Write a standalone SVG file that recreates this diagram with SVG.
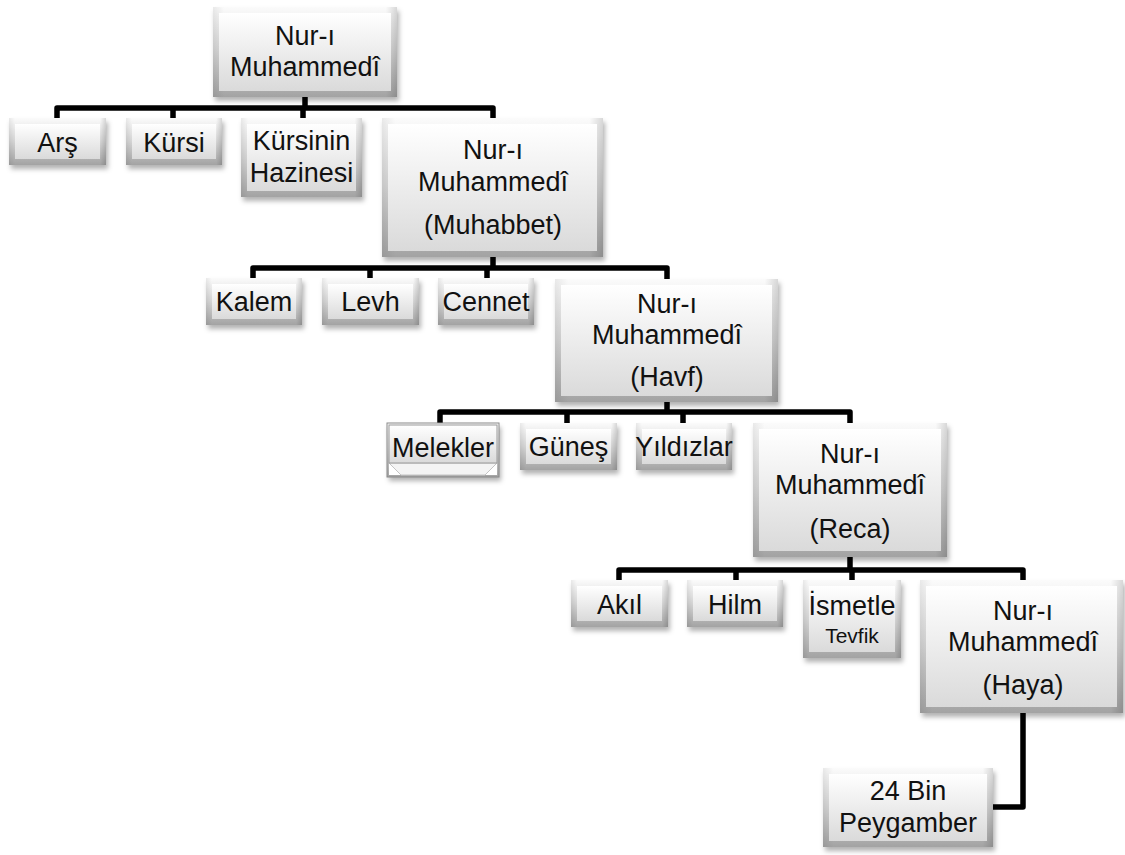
<svg xmlns="http://www.w3.org/2000/svg" width="1125" height="855" viewBox="0 0 1125 855">
<defs>
<linearGradient id="edge" x1="0" y1="0" x2="0" y2="1">
<stop offset="0" stop-color="#fbfbfb"/>
<stop offset="0.5" stop-color="#d4d4d4"/>
<stop offset="1" stop-color="#a3a3a3"/>
</linearGradient>
<linearGradient id="side" x1="0" y1="0" x2="1" y2="0">
<stop offset="0" stop-color="#000" stop-opacity="0.07"/>
<stop offset="0.06" stop-color="#000" stop-opacity="0"/>
<stop offset="0.94" stop-color="#000" stop-opacity="0"/>
<stop offset="1" stop-color="#000" stop-opacity="0.14"/>
</linearGradient>
<linearGradient id="face" x1="0" y1="0" x2="0" y2="1">
<stop offset="0" stop-color="#ffffff"/>
<stop offset="1" stop-color="#dadada"/>
</linearGradient>
<filter id="sh" x="-10%" y="-10%" width="125%" height="135%">
<feDropShadow dx="2" dy="4" stdDeviation="2.5" flood-color="#000" flood-opacity="0.3"/>
</filter>
</defs>
<style>
.bo{fill:url(#edge);filter:url(#sh)}
.bs{fill:url(#side)}
.bi{fill:url(#face)}
text{font-family:"Liberation Sans","Open Sans",sans-serif;font-size:27px;fill:#111;text-anchor:middle}
.sm{font-size:21px}
.con path{fill:none;stroke:#000;stroke-width:5.5;stroke-linejoin:round}
</style>
<rect width="1125" height="855" fill="#fff"/>

<g class="con" id="connectors">
<path d="M305,97 V108"/>
<path d="M57,118 V108 H493 V118"/>
<path d="M173,108 V118"/>
<path d="M303,108 V118"/>
<path d="M493,257 V268"/>
<path d="M253,278 V268 H667 V279"/>
<path d="M370,268 V278"/>
<path d="M487,268 V278"/>
<path d="M667,402 V412"/>
<path d="M440,423 V412 H850 V423"/>
<path d="M567,412 V423"/>
<path d="M683,412 V423"/>
<path d="M850,557 V570"/>
<path d="M619,580 V570 H1023 V580"/>
<path d="M736,570 V580"/>
<path d="M852,570 V580"/>
<path d="M1023,713 V807 H993"/>
</g>

<g id="n0">
<rect class="bo" x="213" y="7" width="184" height="90"/><rect class="bs" x="213" y="7" width="184" height="90"/>
<rect class="bi" x="219" y="13" width="172" height="78"/>
<text x="305" y="45">Nur-ı</text><text x="305" y="76">Muhammedî</text>
</g>

<g id="n-ars">
<rect class="bo" x="9" y="118" width="97" height="47"/><rect class="bs" x="9" y="118" width="97" height="47"/>
<rect class="bi" x="15" y="124" width="85" height="35"/>
<text x="57.5" y="152">Arş</text>
</g>
<g id="n-kursi">
<rect class="bo" x="126" y="118" width="96" height="47"/><rect class="bs" x="126" y="118" width="96" height="47"/>
<rect class="bi" x="132" y="124" width="84" height="35"/>
<text x="174" y="152">Kürsi</text>
</g>
<g id="n-kursinin">
<rect class="bo" x="241" y="118" width="121" height="79"/><rect class="bs" x="241" y="118" width="121" height="79"/>
<rect class="bi" x="247" y="124" width="109" height="67"/>
<text x="301.5" y="150">Kürsinin</text><text x="301.5" y="182">Hazinesi</text>
</g>

<g id="n1">
<rect class="bo" x="382" y="118" width="221" height="139"/><rect class="bs" x="382" y="118" width="221" height="139"/>
<rect class="bi" x="388" y="124" width="209" height="127"/>
<text x="493" y="159">Nur-ı</text><text x="493" y="191">Muhammedî</text><text x="493" y="234">(Muhabbet)</text>
</g>

<g id="n-kalem">
<rect class="bo" x="206" y="278" width="96" height="47"/><rect class="bs" x="206" y="278" width="96" height="47"/>
<rect class="bi" x="212" y="284" width="84" height="35"/>
<text x="254" y="311">Kalem</text>
</g>
<g id="n-levh">
<rect class="bo" x="322" y="278" width="97" height="47"/><rect class="bs" x="322" y="278" width="97" height="47"/>
<rect class="bi" x="328" y="284" width="85" height="35"/>
<text x="370.5" y="311">Levh</text>
</g>
<g id="n-cennet">
<rect class="bo" x="438" y="278" width="96" height="47"/><rect class="bs" x="438" y="278" width="96" height="47"/>
<rect class="bi" x="444" y="284" width="84" height="35"/>
<text x="486" y="311">Cennet</text>
</g>

<g id="n2">
<rect class="bo" x="555" y="279" width="223" height="123"/><rect class="bs" x="555" y="279" width="223" height="123"/>
<rect class="bi" x="561" y="285" width="211" height="111"/>
<text x="667" y="313">Nur-ı</text><text x="667" y="344">Muhammedî</text><text x="667" y="386">(Havf)</text>
</g>

<g id="n-melekler">
<rect class="bo" x="387" y="423" width="112" height="54"/>
<rect x="387" y="423" width="112" height="54" fill="none" stroke="#8a8a8a" stroke-width="1"/>
<polygon points="389,463 497,463 497,475 389,475" fill="#ffffff"/>
<polygon points="389,463 497,463 485,475 401,475" fill="#f4f4f4" stroke="#c4c4c4" stroke-width="1"/>
<rect x="389" y="425" width="108" height="38" fill="url(#face)" stroke="#9a9a9a" stroke-width="1"/>
<text x="443" y="457">Melekler</text>
</g>
<g id="n-gunes">
<rect class="bo" x="520" y="423" width="97" height="47"/><rect class="bs" x="520" y="423" width="97" height="47"/>
<rect class="bi" x="526" y="429" width="85" height="35"/>
<text x="568.5" y="456">Güneş</text>
</g>
<g id="n-yildizlar">
<rect class="bo" x="636" y="423" width="96" height="47"/><rect class="bs" x="636" y="423" width="96" height="47"/>
<rect class="bi" x="642" y="429" width="84" height="35"/>
<text x="684" y="456">Yıldızlar</text>
</g>

<g id="n3">
<rect class="bo" x="753" y="423" width="194" height="134"/><rect class="bs" x="753" y="423" width="194" height="134"/>
<rect class="bi" x="759" y="429" width="182" height="122"/>
<text x="850" y="463">Nur-ı</text><text x="850" y="494">Muhammedî</text><text x="850" y="538">(Reca)</text>
</g>

<g id="n-akil">
<rect class="bo" x="571" y="580" width="97" height="47"/><rect class="bs" x="571" y="580" width="97" height="47"/>
<rect class="bi" x="577" y="586" width="85" height="35"/>
<text x="619.5" y="614">Akıl</text>
</g>
<g id="n-hilm">
<rect class="bo" x="687" y="580" width="96" height="47"/><rect class="bs" x="687" y="580" width="96" height="47"/>
<rect class="bi" x="693" y="586" width="84" height="35"/>
<text x="735" y="614">Hilm</text>
</g>
<g id="n-ismetle">
<rect class="bo" x="803" y="580" width="98" height="78"/><rect class="bs" x="803" y="580" width="98" height="78"/>
<rect class="bi" x="809" y="586" width="86" height="66"/>
<text x="852" y="615">İsmetle</text><text class="sm" x="852" y="643">Tevfik</text>
</g>

<g id="n4">
<rect class="bo" x="920" y="580" width="203" height="133"/><rect class="bs" x="920" y="580" width="203" height="133"/>
<rect class="bi" x="926" y="586" width="191" height="121"/>
<text x="1023" y="620">Nur-ı</text><text x="1023" y="651">Muhammedî</text><text x="1023" y="694">(Haya)</text>
</g>

<g id="n-24bin">
<rect class="bo" x="823" y="768" width="170" height="79"/><rect class="bs" x="823" y="768" width="170" height="79"/>
<rect class="bi" x="829" y="774" width="158" height="67"/>
<text x="908" y="800">24 Bin</text><text x="908" y="832">Peygamber</text>
</g>
</svg>
